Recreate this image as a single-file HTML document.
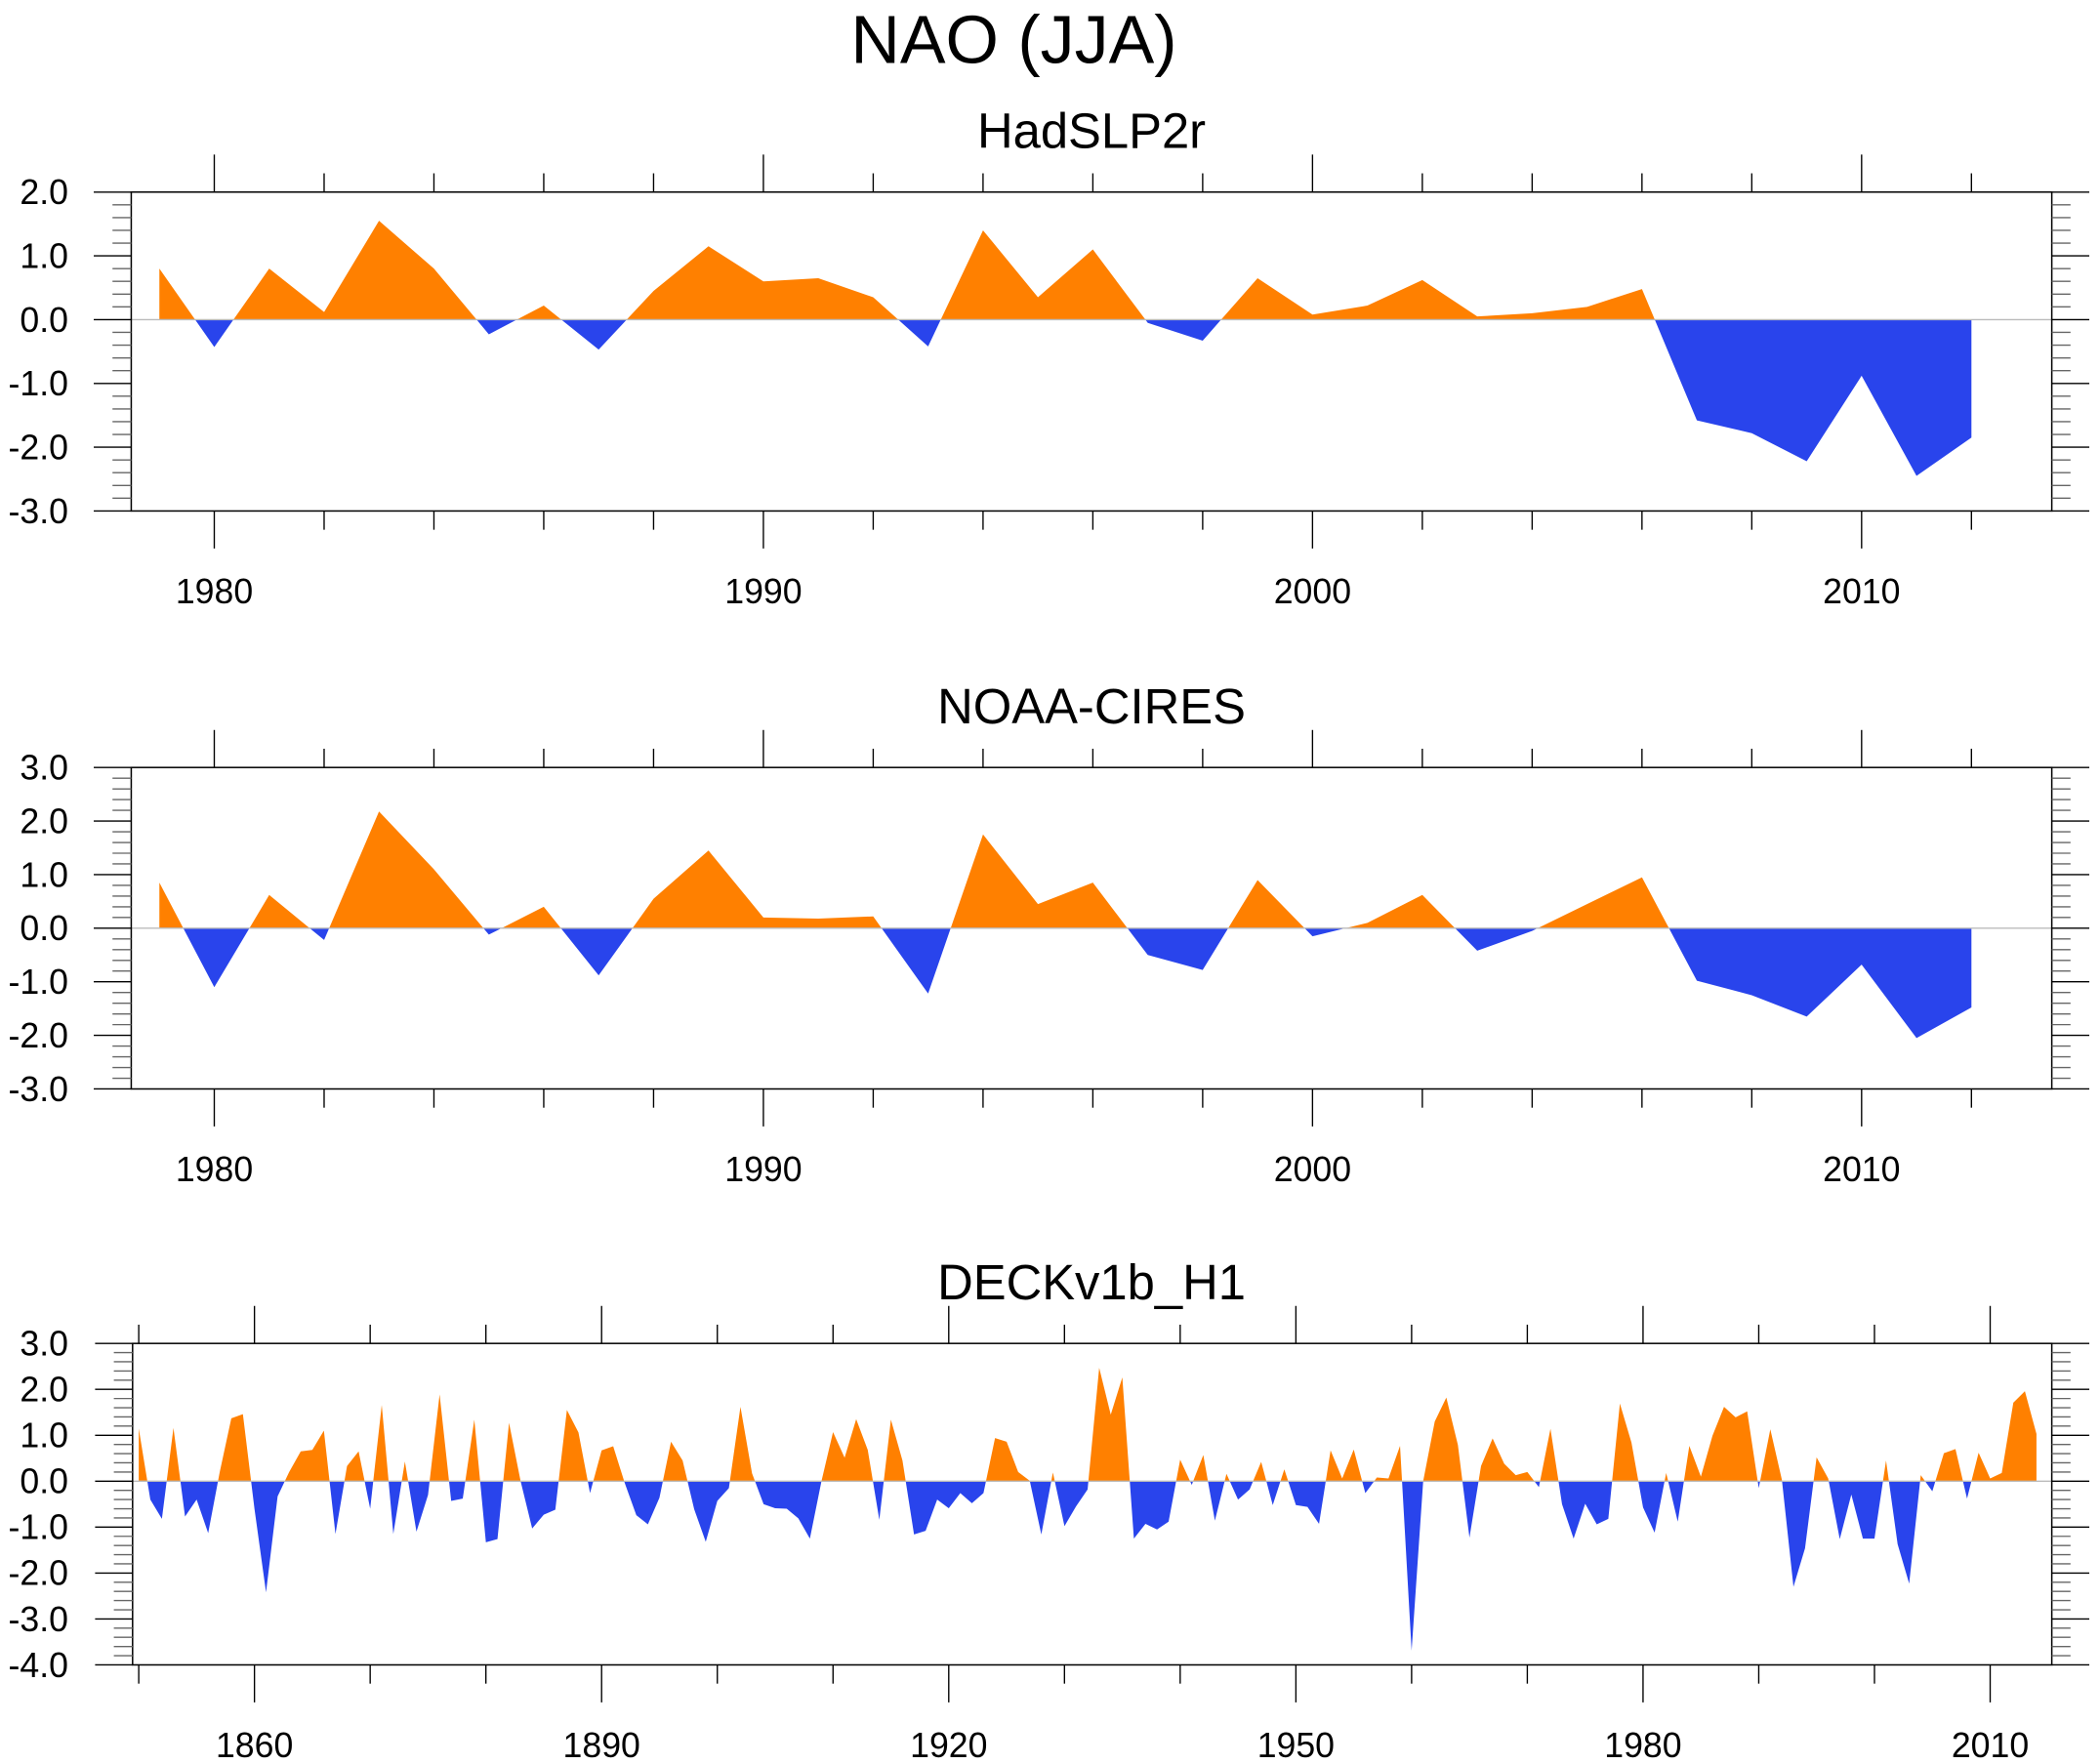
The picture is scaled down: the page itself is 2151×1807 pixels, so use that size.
<!DOCTYPE html>
<html><head><meta charset="utf-8"><style>
html,body{margin:0;padding:0;background:#fff;}
svg{display:block;font-family:"Liberation Sans",Arial,sans-serif;}
</style></head><body>
<svg id="chart" width="2151" height="1807" viewBox="0 0 1568 1317" preserveAspectRatio="none" xmlns="http://www.w3.org/2000/svg"><text x="757" y="47" font-size="51" text-anchor="middle" fill="#000">NAO (JJA)</text></svg>
<script>
const hadYears = [1979,1980,1981,1982,1983,1984,1985,1986,1987,1988,1989,1990,1991,1992,1993,1994,1995,1996,1997,1998,1999,2000,2001,2002,2003,2004,2005,2006,2007,2008,2009,2010,2011,2012];
const hadValues = [0.8,-0.43,0.8,0.12,1.55,0.8,-0.23,0.22,-0.47,0.45,1.15,0.6,0.65,0.35,-0.42,1.4,0.35,1.1,-0.05,-0.33,0.65,0.08,0.22,0.62,0.05,0.1,0.2,0.48,-1.58,-1.78,-2.22,-0.88,-2.45,-1.85];
const noaaValues = [0.85,-1.1,0.62,-0.22,2.18,1.1,-0.12,0.4,-0.88,0.55,1.45,0.2,0.18,0.22,-1.22,1.75,0.45,0.85,-0.5,-0.78,0.9,-0.15,0.1,0.62,-0.42,-0.05,0.45,0.95,-0.98,-1.25,-1.65,-0.68,-2.05,-1.48];
const deckStartYear = 1850;
const deckValues = [
1.15,-0.4,-0.82,1.16,-0.77,-0.4,-1.13,0.2,1.37,1.46,
-0.6,-2.42,-0.33,0.2,0.65,0.68,1.1,-1.15,0.33,0.65,
-0.6,1.66,-1.15,0.43,-1.1,-0.3,1.89,-0.43,-0.38,1.34,
-1.33,-1.26,1.27,0.0,-1.03,-0.73,-0.62,1.55,1.06,-0.26,
0.67,0.76,-0.04,-0.74,-0.94,-0.36,0.86,0.45,-0.61,-1.32,
-0.43,-0.15,1.62,0.17,-0.5,-0.59,-0.6,-0.81,-1.25,0.0,
1.07,0.51,1.35,0.68,-0.84,1.34,0.45,-1.16,-1.08,-0.4,
-0.59,-0.26,-0.48,-0.26,0.94,0.86,0.2,0.01,-1.16,0.19,
-0.98,-0.55,-0.18,2.47,1.45,2.26,-1.25,-0.93,-1.05,-0.88,
0.47,-0.08,0.57,-0.86,0.16,-0.4,-0.18,0.42,-0.52,0.26,
-0.52,-0.56,-0.93,0.67,0.06,0.69,-0.26,0.08,0.06,0.77,
-3.69,0.0,1.3,1.82,0.79,-1.23,0.33,0.93,0.38,0.13,
0.2,-0.13,1.14,-0.5,-1.25,-0.49,-0.94,-0.82,1.69,0.84,
-0.57,-1.12,0.18,-0.88,0.77,0.1,0.99,1.62,1.39,1.52,
-0.15,1.13,0.03,-2.3,-1.46,0.52,0.06,-1.26,-0.29,-1.25,
-1.25,0.45,-1.37,-2.23,0.13,-0.22,0.61,0.7,-0.38,0.62,
0.06,0.18,1.71,1.96,1.03];
const deckYears = deckValues.map((v,i)=>deckStartYear+i);
const topTickLabels = ["1980","1990","2000","2010"];
const deckTickLabels = ["1860","1890","1920","1950","1980","2010"];

const NS="http://www.w3.org/2000/svg";
const svg=document.getElementById('chart');
function mk(tag,attrs,parent){const e=document.createElementNS(NS,tag);for(const k in attrs)e.setAttribute(k,attrs[k]);(parent||svg).appendChild(e);return e;}

function panel(o){
  const g=mk('g',{});
  
  
  const xs=v=>o.px0+(v-o.xa)/(o.xb-o.xa)*(o.px1-o.px0);
  const ys=v=>o.y1-(v-o.ymin)/(o.ymax-o.ymin)*(o.y1-o.y0);
  const t=mk('text',{x:815,y:o.y0-33,'font-size':37,'text-anchor':'middle'},g);
  t.textContent=o.title;
  
  
  const pts=[];
  for(let i=0;i<o.years.length;i++){
    const v=o.vals[i];
    if(i>0){const p=o.vals[i-1];if((p>0&&v<0)||(p<0&&v>0)){const f=p/(p-v);pts.push([o.years[i-1]+f*(o.years[i]-o.years[i-1]),0]);}}
    pts.push([o.years[i],v]);
  }
  const first=o.years[0],last=o.years[o.years.length-1];
  const poly=(fn)=>{let s=xs(first)+','+ys(0)+' ';pts.forEach(p=>{s+=xs(p[0])+','+ys(fn(p[1]))+' ';});s+=xs(last)+','+ys(0);return s;};
  const pos=mk('polygon',{points:poly(v=>Math.max(v,0)),fill:'#ff8000'},g);
  
  
  const neg=mk('polygon',{points:poly(v=>Math.min(v,0)),fill:'#2944ec'},g);
  
  
  const zl=mk('line',{x1:o.x0,x2:o.x1,y1:ys(0),y2:ys(0),stroke:'#bbb','stroke-width':1},g);
  
  
  const fr=mk('rect',{x:o.x0,y:o.y0,width:o.x1-o.x0,height:o.y1-o.y0,fill:'none',stroke:'#000','stroke-width':1.1},g);
  
  
  for(let k=0;k<=Math.round((o.ymax-o.ymin)*5);k++){
    const r=Math.round((o.ymin+k*0.2)*10)/10;const major=k%5===0;
    const y=ys(r);const L=major?28:14;
    mk('line',{x1:o.x0-L,x2:o.x0,y1:y,y2:y,stroke:major?'#000':'#666','stroke-width':1},g);
    mk('line',{x1:o.x1,x2:o.x1+L,y1:y,y2:y,stroke:major?'#000':'#666','stroke-width':1},g);
    if(major){const tl=mk('text',{x:51,y:y+9,'font-size':26,'text-anchor':'end'},g);tl.textContent=r.toFixed(1);
      
      }
  }
  for(let yr=o.tickStart;yr<=o.tickEnd;yr+=o.minorStep){
    const major=yr>=o.majorStart&&((yr-o.majorStart)%o.majorStep)===0;
    const x=xs(yr);const L=major?28:14;
    mk('line',{x1:x,x2:x,y1:o.y0-L,y2:o.y0,stroke:'#000','stroke-width':1},g);
    mk('line',{x1:x,x2:x,y1:o.y1,y2:o.y1+L,stroke:'#000','stroke-width':1},g);
  }
  o.labels.forEach(lb=>{const x=xs(+lb);const tl=mk('text',{x:x,y:o.y1+69,'font-size':26,'text-anchor':'middle'},g);tl.textContent=lb;
    
    });
}
panel({name:'hadslp2r',title:'HadSLP2r',years:hadYears,vals:hadValues,x0:98,x1:1532,y0:143.4,y1:381.5,
  px0:160,px1:1390,xa:1980,xb:2010,ymin:-3,ymax:2,tickStart:1980,tickEnd:2012,minorStep:2,majorStart:1980,majorStep:10,labels:topTickLabels});
panel({name:'noaa-cires',title:'NOAA-CIRES',years:hadYears,vals:noaaValues,x0:98,x1:1532,y0:573,y1:813,
  px0:160,px1:1390,xa:1980,xb:2010,ymin:-3,ymax:3,tickStart:1980,tickEnd:2012,minorStep:2,majorStart:1980,majorStep:10,labels:topTickLabels});
panel({name:'deckv1b-h1',title:'DECKv1b_H1',years:deckYears,vals:deckValues,x0:99,x1:1532,y0:1003,y1:1243,
  px0:190,px1:1486,xa:1860,xb:2010,ymin:-4,ymax:3,tickStart:1850,tickEnd:2014,minorStep:10,majorStart:1860,majorStep:30,labels:deckTickLabels});
</script>
</body></html>
